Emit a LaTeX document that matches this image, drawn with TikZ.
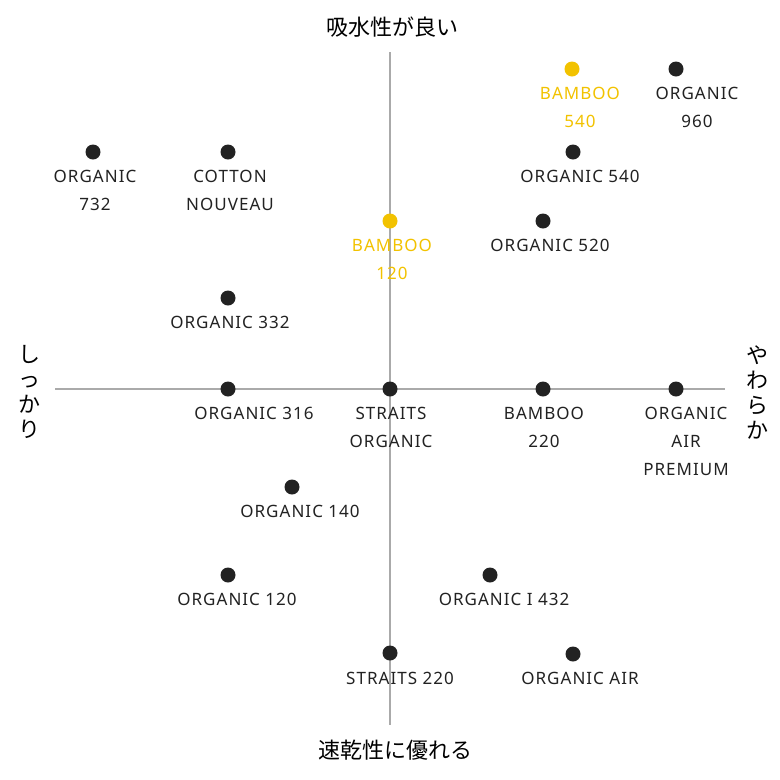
\documentclass[tikz,border=0pt]{standalone}
\usepackage{fontspec}
\setmainfont[LetterSpace=6]{Noto Sans}
\newfontfamily\jp{Noto Sans CJK JP}
\definecolor{dk}{HTML}{222222}
\definecolor{yl}{HTML}{F2C200}
\definecolor{ax}{HTML}{AAAAAA}
\begin{document}
\begin{tikzpicture}[x=1pt,y=-1pt,
 dot/.style={circle,fill=dk,inner sep=0pt,minimum size=15pt},
 ydot/.style={dot,fill=yl},
 lbl/.style={text=dk,font=\fontsize{17}{28}\selectfont,align=center,inner sep=0pt},
 ylbl/.style={lbl,text=yl},
 jpl/.style={text=black,font=\jp\fontsize{22}{25}\selectfont,align=center,inner sep=0pt}]
\useasboundingbox (0,0) rectangle (780,780);
\coordinate (t) at (390,52); \coordinate (b) at (390,725);
\coordinate (l) at (55,389); \coordinate (r) at (725,389);
\draw[ax,line width=2pt] (t)--(b); \draw[ax,line width=2pt] (l)--(r);
\node[jpl] (jt) at (392,27) {吸水性が良い};
\node[jpl] (jb) at (395,750) {速乾性に優れる};
\node[jpl] (jl) at (30,392) {し\\っ\\か\\り};
\node[jpl] (jr) at (757,392) {や\\わ\\ら\\か};
\node[ydot] (d1) at (572,69) {}; \node[ylbl,anchor=north] (l1) at (580,87) {BAMBOO\\540};
\node[dot] (d2) at (676,69) {}; \node[lbl,anchor=north] (l2) at (697,87) {ORGANIC\\960};
\node[dot] (d3) at (573,152) {}; \node[lbl,anchor=north] (l3) at (580,170) {ORGANIC 540};
\node[dot] (d4) at (93,152) {}; \node[lbl,anchor=north] (l4) at (95,170) {ORGANIC\\732};
\node[dot] (d5) at (228,152) {}; \node[lbl,anchor=north] (l5) at (230,170) {COTTON\\NOUVEAU};
\node[dot] (d6) at (543,221) {}; \node[lbl,anchor=north] (l6) at (550,239) {ORGANIC 520};
\node[ydot] (d7) at (390,221) {}; \node[ylbl,anchor=north] (l7) at (392,239) {BAMBOO\\120};
\node[dot] (d8) at (228,298) {}; \node[lbl,anchor=north] (l8) at (230,316) {ORGANIC 332};
\node[dot] (d9) at (228,389) {}; \node[lbl,anchor=north] (l9) at (254,407) {ORGANIC 316};
\node[dot] (d10) at (390,389) {}; \node[lbl,anchor=north] (l10) at (391,407) {STRAITS\\ORGANIC};
\node[dot] (d11) at (543,389) {}; \node[lbl,anchor=north] (l11) at (544,407) {BAMBOO\\220};
\node[dot] (d12) at (676,389) {}; \node[lbl,anchor=north] (l12) at (686,407) {ORGANIC\\AIR\\PREMIUM};
\node[dot] (d13) at (292,487) {}; \node[lbl,anchor=north] (l13) at (300,505) {ORGANIC 140};
\node[dot] (d14) at (228,575) {}; \node[lbl,anchor=north] (l14) at (237,593) {ORGANIC 120};
\node[dot] (d15) at (490,575) {}; \node[lbl,anchor=north] (l15) at (504,593) {ORGANIC I 432};
\node[dot] (d16) at (390,653) {}; \node[lbl,anchor=north] (l16) at (400,672) {STRAITS 220};
\node[dot] (d17) at (573,654) {}; \node[lbl,anchor=north] (l17) at (580,672) {ORGANIC AIR};
\end{tikzpicture}
\end{document}
